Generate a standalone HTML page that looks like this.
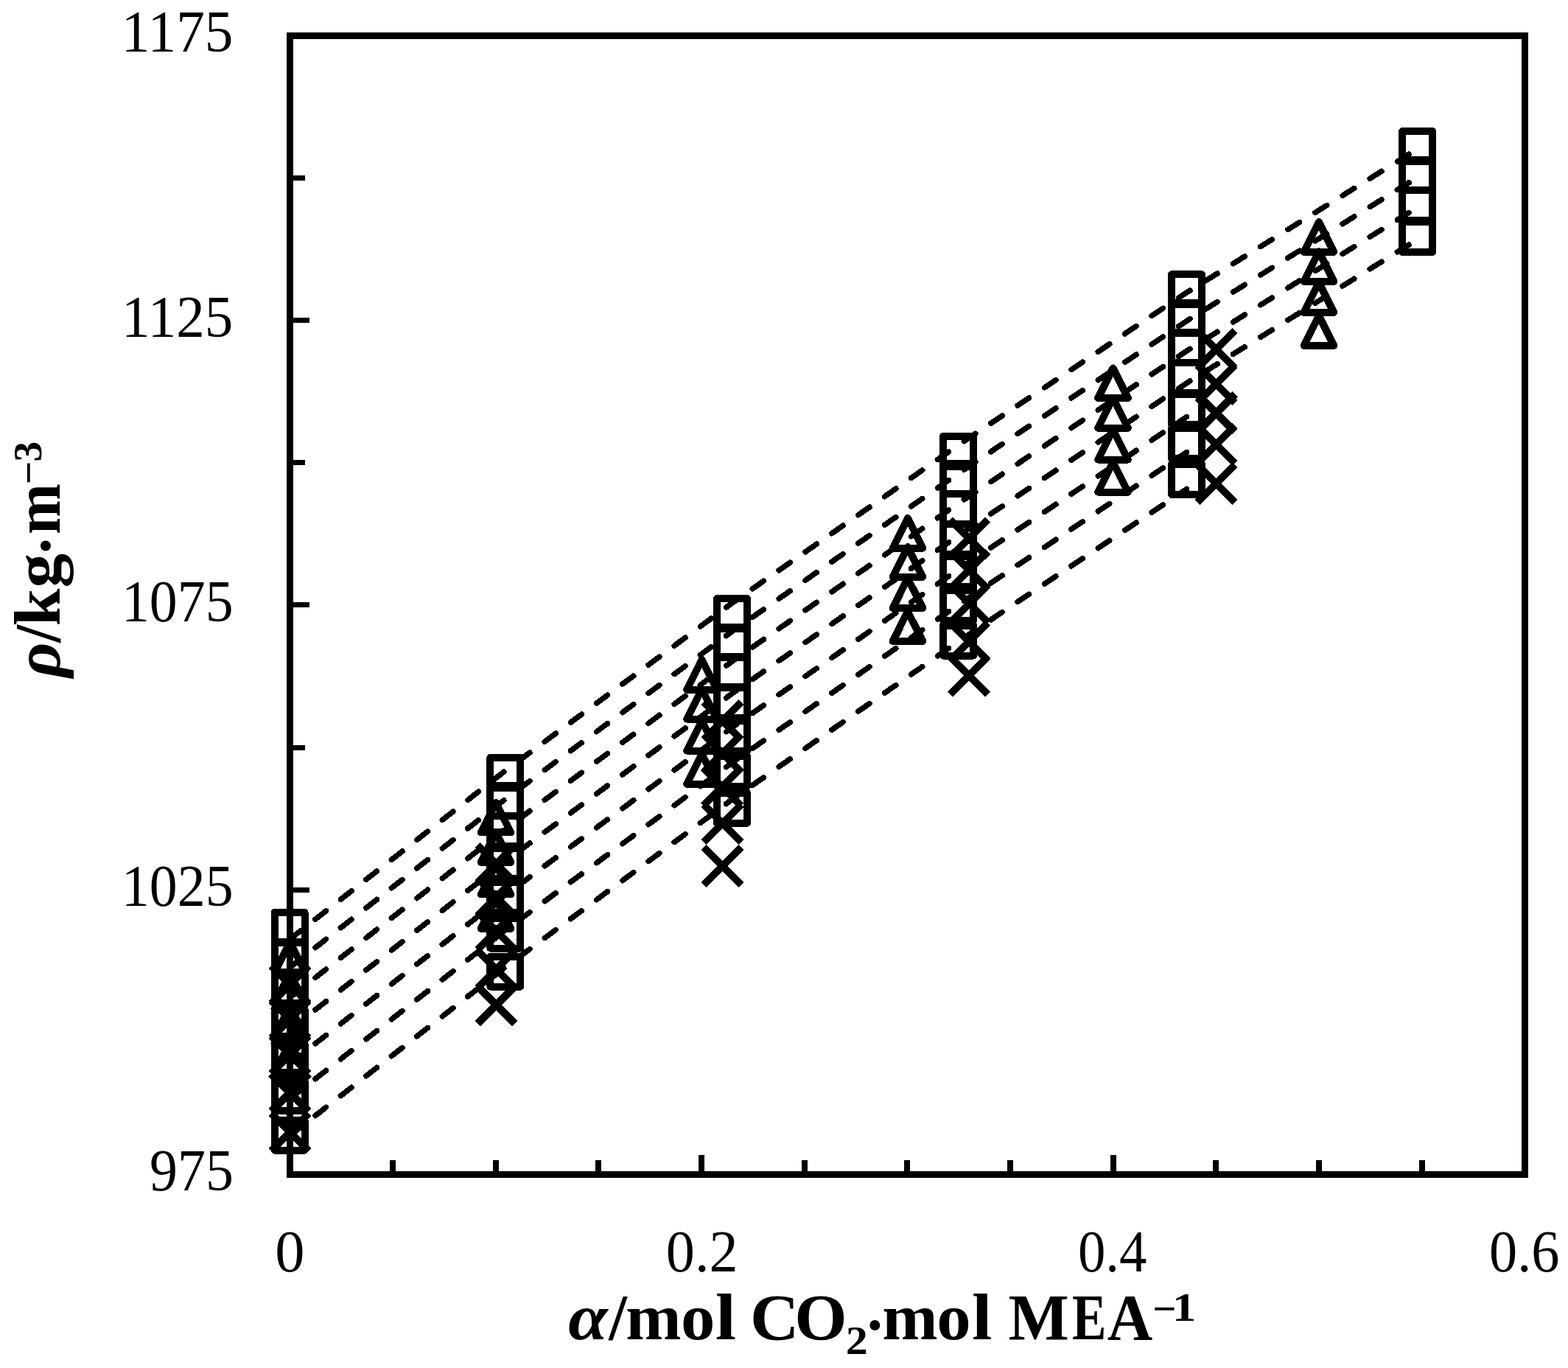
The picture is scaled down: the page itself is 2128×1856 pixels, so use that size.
<!DOCTYPE html>
<html lang="en"><head><meta charset="utf-8">
<style>html,body{margin:0;padding:0;background:#fff;overflow:hidden}svg{display:block}text{font-family:"Liberation Serif","DejaVu Serif",serif;fill:#000}.b{font-weight:bold}.i{font-style:italic}</style></head><body>
<svg width="2128" height="1856" viewBox="0 0 2128 1856">
<rect x="0" y="0" width="2128" height="1856" fill="#fff"/>
<g shape-rendering="crispEdges" fill="none" stroke="#000" stroke-width="7.5" stroke-linecap="round" stroke-linejoin="round" stroke-dasharray="18.5 25.25">
<path d="M393.5 1274.1 L686.0 1045.5 L993.5 818.2 L1300.5 603.9 L1610.5 396.9 L1923.6 202.1"/>
<path d="M393.5 1312.6 L686.0 1084.0 L993.5 856.7 L1300.5 642.4 L1610.5 435.4 L1923.6 240.6"/>
<path d="M393.5 1353.3 L686.0 1124.7 L993.5 897.4 L1300.5 683.1 L1610.5 476.1 L1923.6 281.3"/>
<path d="M393.5 1396.9 L686.0 1168.3 L993.5 941.0 L1300.5 726.7 L1610.5 519.7 L1923.6 324.9"/>
<path d="M393.5 1442.8 L686.0 1214.2 L993.5 986.9 L1300.5 772.6 L1610.5 565.6"/>
<path d="M393.5 1490.7 L686.0 1262.1 L993.5 1034.8 L1300.5 820.5 L1610.5 613.5"/>
<path d="M393.5 1540.6 L686.0 1312.0 L993.5 1084.7 L1300.5 870.4 L1610.5 663.4"/>
</g>
<g shape-rendering="crispEdges" fill="none" stroke="#000" stroke-width="10" stroke-linejoin="round">
<rect x="372.5" y="1237.9" width="41.0" height="41.0"/>
<rect x="372.5" y="1278.0" width="41.0" height="41.0"/>
<rect x="372.5" y="1321.0" width="41.0" height="41.0"/>
<rect x="372.5" y="1368.5" width="41.0" height="41.0"/>
<rect x="372.5" y="1415.5" width="41.0" height="41.0"/>
<rect x="372.5" y="1466.0" width="41.0" height="41.0"/>
<rect x="372.5" y="1519.5" width="41.0" height="41.0"/>
<rect x="665.4" y="1027.9" width="41.0" height="41.0"/>
<rect x="665.4" y="1066.0" width="41.0" height="41.0"/>
<rect x="665.4" y="1106.8" width="41.0" height="41.0"/>
<rect x="665.4" y="1151.0" width="41.0" height="41.0"/>
<rect x="665.4" y="1197.0" width="41.0" height="41.0"/>
<rect x="665.4" y="1245.5" width="41.0" height="41.0"/>
<rect x="665.4" y="1297.6" width="41.0" height="41.0"/>
<rect x="973.0" y="812.1" width="41.0" height="41.0"/>
<rect x="973.0" y="850.5" width="41.0" height="41.0"/>
<rect x="973.0" y="890.9" width="41.0" height="41.0"/>
<rect x="973.0" y="932.9" width="41.0" height="41.0"/>
<rect x="973.0" y="977.8" width="41.0" height="41.0"/>
<rect x="973.0" y="1025.8" width="41.0" height="41.0"/>
<rect x="973.0" y="1075.7" width="41.0" height="41.0"/>
<rect x="1280.0" y="592.0" width="41.0" height="41.0"/>
<rect x="1280.0" y="629.0" width="41.0" height="41.0"/>
<rect x="1280.0" y="669.9" width="41.0" height="41.0"/>
<rect x="1280.0" y="710.8" width="41.0" height="41.0"/>
<rect x="1280.0" y="754.6" width="41.0" height="41.0"/>
<rect x="1280.0" y="800.5" width="41.0" height="41.0"/>
<rect x="1280.0" y="848.6" width="41.0" height="41.0"/>
<rect x="1590.0" y="372.3" width="41.0" height="41.0"/>
<rect x="1590.0" y="410.5" width="41.0" height="41.0"/>
<rect x="1590.0" y="450.9" width="41.0" height="41.0"/>
<rect x="1590.0" y="492.0" width="41.0" height="41.0"/>
<rect x="1590.0" y="535.0" width="41.0" height="41.0"/>
<rect x="1590.0" y="581.0" width="41.0" height="41.0"/>
<rect x="1590.0" y="629.8" width="41.0" height="41.0"/>
<rect x="1903.1" y="178.0" width="41.0" height="41.0"/>
<rect x="1903.1" y="217.1" width="41.0" height="41.0"/>
<rect x="1903.1" y="258.0" width="41.0" height="41.0"/>
<rect x="1903.1" y="301.0" width="41.0" height="41.0"/>
<path d="M393.5 1278.2 L413.8 1318.8 L373.2 1318.8 Z"/>
<path d="M393.5 1320.5 L413.8 1361.0 L373.2 1361.0 Z"/>
<path d="M393.5 1365.6 L413.8 1406.1 L373.2 1406.1 Z"/>
<path d="M393.5 1414.5 L413.8 1455.0 L373.2 1455.0 Z"/>
<path d="M673.0 1088.8 L693.2 1129.2 L652.8 1129.2 Z"/>
<path d="M673.0 1129.5 L693.2 1170.0 L652.8 1170.0 Z"/>
<path d="M673.0 1172.8 L693.2 1213.3 L652.8 1213.3 Z"/>
<path d="M673.0 1219.5 L693.2 1260.0 L652.8 1260.0 Z"/>
<path d="M952.5 895.0 L972.8 935.5 L932.2 935.5 Z"/>
<path d="M952.5 935.0 L972.8 975.5 L932.2 975.5 Z"/>
<path d="M952.5 978.1 L972.8 1018.6 L932.2 1018.6 Z"/>
<path d="M952.5 1023.3 L972.8 1063.8 L932.2 1063.8 Z"/>
<path d="M1231.9 703.1 L1252.2 743.6 L1211.7 743.6 Z"/>
<path d="M1231.9 742.2 L1252.2 782.8 L1211.7 782.8 Z"/>
<path d="M1231.9 784.5 L1252.2 825.0 L1211.7 825.0 Z"/>
<path d="M1231.9 829.5 L1252.2 870.0 L1211.7 870.0 Z"/>
<path d="M1510.5 499.5 L1530.8 540.0 L1490.2 540.0 Z"/>
<path d="M1510.5 540.2 L1530.8 580.8 L1490.2 580.8 Z"/>
<path d="M1510.5 583.0 L1530.8 623.5 L1490.2 623.5 Z"/>
<path d="M1510.5 627.1 L1530.8 667.6 L1490.2 667.6 Z"/>
<path d="M1789.9 301.2 L1810.2 341.8 L1769.7 341.8 Z"/>
<path d="M1789.9 341.4 L1810.2 381.9 L1769.7 381.9 Z"/>
<path d="M1789.9 383.2 L1810.2 423.8 L1769.7 423.8 Z"/>
<path d="M1789.9 428.4 L1810.2 468.9 L1769.7 468.9 Z"/>
<path d="M368.0 1310.2 L419.0 1361.2 M368.0 1361.2 L419.0 1310.2"/>
<path d="M368.0 1357.8 L419.0 1408.8 M368.0 1408.8 L419.0 1357.8"/>
<path d="M368.0 1405.1 L419.0 1456.1 M368.0 1456.1 L419.0 1405.1"/>
<path d="M368.0 1457.0 L419.0 1508.0 M368.0 1508.0 L419.0 1457.0"/>
<path d="M368.0 1510.8 L419.0 1561.8 M368.0 1561.8 L419.0 1510.8"/>
<path d="M648.0 1146.6 L699.0 1197.6 M648.0 1197.6 L699.0 1146.6"/>
<path d="M648.0 1191.1 L699.0 1242.1 M648.0 1242.1 L699.0 1191.1"/>
<path d="M648.0 1237.2 L699.0 1288.2 M648.0 1288.2 L699.0 1237.2"/>
<path d="M648.0 1289.8 L699.0 1340.8 M648.0 1340.8 L699.0 1289.8"/>
<path d="M648.0 1338.0 L699.0 1389.0 M648.0 1389.0 L699.0 1338.0"/>
<path d="M954.9 952.5 L1005.9 1003.5 M954.9 1003.5 L1005.9 952.5"/>
<path d="M954.9 996.3 L1005.9 1047.3 M954.9 1047.3 L1005.9 996.3"/>
<path d="M954.9 1042.0 L1005.9 1093.0 M954.9 1093.0 L1005.9 1042.0"/>
<path d="M954.9 1091.2 L1005.9 1142.2 M954.9 1142.2 L1005.9 1091.2"/>
<path d="M954.9 1149.5 L1005.9 1200.5 M954.9 1200.5 L1005.9 1149.5"/>
<path d="M1289.7 705.0 L1340.7 756.0 M1289.7 756.0 L1340.7 705.0"/>
<path d="M1289.7 748.1 L1340.7 799.1 M1289.7 799.1 L1340.7 748.1"/>
<path d="M1289.7 793.6 L1340.7 844.6 M1289.7 844.6 L1340.7 793.6"/>
<path d="M1289.7 844.8 L1340.7 895.8 M1289.7 895.8 L1340.7 844.8"/>
<path d="M1289.7 891.1 L1340.7 942.1 M1289.7 942.1 L1340.7 891.1"/>
<path d="M1625.0 448.5 L1676.0 499.5 M1625.0 499.5 L1676.0 448.5"/>
<path d="M1625.0 495.4 L1676.0 546.4 M1625.0 546.4 L1676.0 495.4"/>
<path d="M1625.0 535.0 L1676.0 586.0 M1625.0 586.0 L1676.0 535.0"/>
<path d="M1625.0 577.5 L1676.0 628.5 M1625.0 628.5 L1676.0 577.5"/>
<path d="M1625.0 630.7 L1676.0 681.7 M1625.0 681.7 L1676.0 630.7"/>
</g>
<g fill="#000" stroke="none">
<rect x="529" y="1574" width="8" height="17"/>
<rect x="669" y="1574" width="8" height="17"/>
<rect x="808" y="1574" width="8" height="17"/>
<rect x="948" y="1567" width="8" height="24"/>
<rect x="1088" y="1574" width="8" height="17"/>
<rect x="1227" y="1574" width="8" height="17"/>
<rect x="1367" y="1574" width="8" height="17"/>
<rect x="1507" y="1567" width="8" height="24"/>
<rect x="1646" y="1574" width="8" height="17"/>
<rect x="1786" y="1574" width="8" height="17"/>
<rect x="1926" y="1574" width="8" height="17"/>
<rect x="396" y="1397" width="18" height="7"/>
<rect x="396" y="1204" width="24" height="7"/>
<rect x="396" y="1011" width="18" height="7"/>
<rect x="396" y="817" width="24" height="7"/>
<rect x="396" y="624" width="18" height="7"/>
<rect x="396" y="431" width="24" height="7"/>
<rect x="396" y="238" width="18" height="7"/>
</g>
<rect x="393.5" y="48.5" width="1676.0" height="1545.0" fill="none" stroke="#000" stroke-width="9" stroke-linejoin="miter"/>
<g id="ticklabels">
<text x="203.03" y="1615.30" font-size="79.5" textLength="113.80" lengthAdjust="spacingAndGlyphs">975</text>
<text x="164.97" y="1229.05" font-size="79.5" textLength="151.56" lengthAdjust="spacingAndGlyphs">1025</text>
<text x="164.97" y="842.80" font-size="79.5" textLength="151.56" lengthAdjust="spacingAndGlyphs">1075</text>
<text x="165.06" y="456.55" font-size="79.5" textLength="151.26" lengthAdjust="spacingAndGlyphs">1125</text>
<text x="164.84" y="70.30" font-size="79.5" textLength="151.58" lengthAdjust="spacingAndGlyphs">1175</text>
<text x="373.38" y="1725.30" font-size="79.5" textLength="40.24" lengthAdjust="spacingAndGlyphs">0</text>
<text x="903.87" y="1725.30" font-size="79.5" textLength="97.73" lengthAdjust="spacingAndGlyphs">0.2</text>
<text x="1462.89" y="1725.30" font-size="79.5" textLength="93.53" lengthAdjust="spacingAndGlyphs">0.4</text>
<text x="2021.04" y="1725.30" font-size="79.5" textLength="95.35" lengthAdjust="spacingAndGlyphs">0.6</text>
</g>
<text id="xtitle" class="b" font-size="88"><tspan x="771.39" y="1816.50" font-style="italic" textLength="53.47" lengthAdjust="spacingAndGlyphs">α</tspan><tspan x="826.38" y="1816.50" textLength="24.57" lengthAdjust="spacingAndGlyphs">/</tspan><tspan x="849.31" y="1816.50" textLength="75.31" lengthAdjust="spacingAndGlyphs">m</tspan><tspan x="923.92" y="1816.50" textLength="46.35" lengthAdjust="spacingAndGlyphs">o</tspan><tspan x="970.86" y="1816.50" textLength="28.37" lengthAdjust="spacingAndGlyphs">l</tspan><tspan> </tspan><tspan x="1018.00" y="1816.50" textLength="66.39" lengthAdjust="spacingAndGlyphs">C</tspan><tspan x="1078.21" y="1816.50" textLength="71.38" lengthAdjust="spacingAndGlyphs">O</tspan><tspan x="1147.75" y="1836.90" font-size="55.5" textLength="30.00" lengthAdjust="spacingAndGlyphs">2</tspan><tspan x="1173.00" y="1826.59" font-size="86">·</tspan><tspan x="1197.21" y="1816.50" textLength="75.31" lengthAdjust="spacingAndGlyphs">m</tspan><tspan x="1271.32" y="1816.50" textLength="46.35" lengthAdjust="spacingAndGlyphs">o</tspan><tspan x="1319.03" y="1816.50" textLength="27.44" lengthAdjust="spacingAndGlyphs">l</tspan><tspan> </tspan><tspan x="1368.48" y="1816.50" textLength="82.24" lengthAdjust="spacingAndGlyphs">M</tspan><tspan x="1455.08" y="1816.50" textLength="46.44" lengthAdjust="spacingAndGlyphs">E</tspan><tspan x="1502.75" y="1816.50" textLength="61.46" lengthAdjust="spacingAndGlyphs">A</tspan><tspan x="1564.13" y="1794.45" font-size="55.5" textLength="32.23" lengthAdjust="spacingAndGlyphs">−</tspan><tspan x="1590.75" y="1791.70" font-size="55.5" textLength="32.79" lengthAdjust="spacingAndGlyphs">1</tspan></text>
<text id="ytitle" class="b" font-size="88" transform="translate(80.6 921.3) rotate(-90)"><tspan x="2.31" y="0.00" font-style="italic" textLength="47.54" lengthAdjust="spacingAndGlyphs">ρ</tspan><tspan x="49.37" y="0.00" textLength="24.10" lengthAdjust="spacingAndGlyphs">/</tspan><tspan x="72.02" y="0.00" textLength="50.79" lengthAdjust="spacingAndGlyphs">k</tspan><tspan x="123.83" y="0.00" textLength="46.70" lengthAdjust="spacingAndGlyphs">g</tspan><tspan x="166.50" y="10.39" font-size="86">·</tspan><tspan x="196.43" y="0.00" textLength="68.86" lengthAdjust="spacingAndGlyphs">m</tspan><tspan x="263.99" y="-23.35" font-size="55.5" textLength="31.61" lengthAdjust="spacingAndGlyphs">−</tspan><tspan x="294.82" y="-24.80" font-size="55.5" textLength="27.72" lengthAdjust="spacingAndGlyphs">3</tspan></text>
</svg></body></html>
